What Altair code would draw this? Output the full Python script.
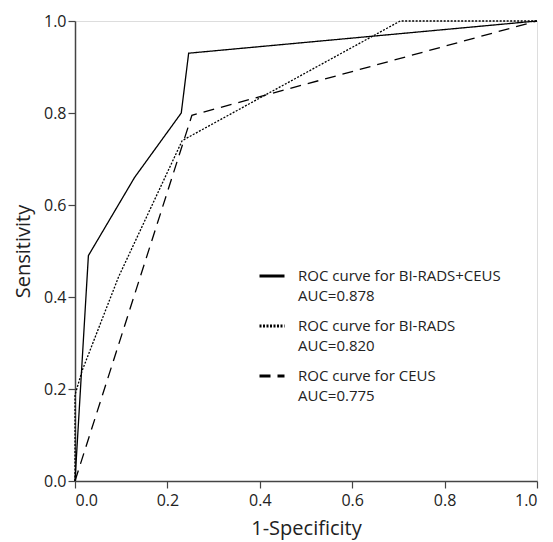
import altair as alt
import pandas as pd

series_names = [
    "ROC curve for BI-RADS+CEUS|AUC=0.878",
    "ROC curve for BI-RADS|AUC=0.820",
    "ROC curve for CEUS|AUC=0.775",
]

combined_fpr = [0.0, 0.029, 0.129, 0.230, 0.246, 1.0]
combined_tpr = [0.0, 0.490, 0.660, 0.800, 0.930, 1.0]

birads_fpr = [0.0, 0.0, 0.0155, 0.094, 0.232, 0.704, 1.0]
birads_tpr = [0.0, 0.187, 0.240, 0.443, 0.740, 1.0, 1.0]

ceus_fpr = [0.0, 0.253, 1.0]
ceus_tpr = [0.0, 0.795, 1.0]

rows = []
for name, xs, ys in zip(series_names,
                        [combined_fpr, birads_fpr, ceus_fpr],
                        [combined_tpr, birads_tpr, ceus_tpr]):
    for i, (x, y) in enumerate(zip(xs, ys)):
        rows.append({"series": name, "fpr": x, "tpr": y, "order": i})
df = pd.DataFrame(rows)

axis_common = dict(
    grid=False,
    domainColor="#444444",
    tickColor="#444444",
    tickSize=7,
    tickWidth=1.2,
    domainWidth=1.5,
    labelFont="Open Sans",
    labelFontSize=16,
    labelColor="#222222",
    titleFont="Open Sans",
    titleFontSize=20,
    titleFontWeight="normal",
    titleColor="#222222",
    format=".1f",
    values=[0, 0.2, 0.4, 0.6, 0.8, 1.0],
)

chart = alt.Chart(df).mark_line(color="black", strokeWidth=1.3).encode(
    x=alt.X("fpr:Q", title="1-Specificity",
            scale=alt.Scale(domain=[0, 1], nice=False),
            axis=alt.Axis(labelPadding=4, titlePadding=10, **axis_common)),
    y=alt.Y("tpr:Q", title="Sensitivity",
            scale=alt.Scale(domain=[0, 1], nice=False),
            axis=alt.Axis(labelPadding=2, titlePadding=10, **axis_common)),
    detail="series:N",
    order="order:Q",
    strokeDash=alt.StrokeDash(
        "series:N",
        scale=alt.Scale(domain=series_names, range=[[1, 0], [2, 1.5], [11, 7]]),
        legend=alt.Legend(
            title=None,
            orient="none",
            legendX=183,
            legendY=241,
            symbolType="stroke",
            symbolSize=625,
            symbolStrokeWidth=3,
            symbolStrokeColor="black",
            labelExpr="split(datum.label, '|')",
            labelFont="Open Sans",
            labelFontSize=15,
            labelColor="#222222",
            labelLimit=400,
            labelOffset=12,
            labelBaseline="middle",
            rowPadding=8,
        ),
    ),
).properties(
    width=462,
    height=460,
    padding={"left": 5, "top": 5, "right": 0, "bottom": 5},
).configure_view(stroke=None).configure(style={"guide-label": {"lineHeight": 20}})

chart.save("out.html", embed_options={"renderer": "svg", "actions": False})
